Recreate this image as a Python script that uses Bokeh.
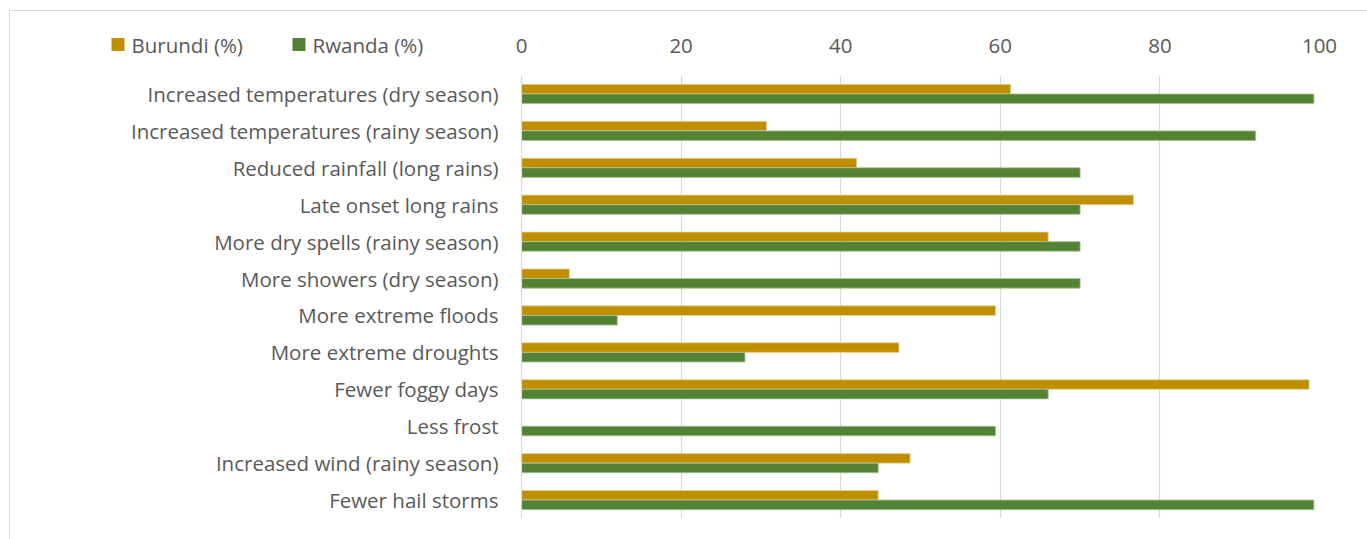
from bokeh.plotting import figure
from bokeh.layouts import column, row
from bokeh.models import ColumnDataSource, FactorRange, Range1d, FixedTicker
from bokeh.core.properties import value
from bokeh.transform import dodge
from bokeh.embed import file_html
from bokeh.resources import INLINE

categories = [
    "Increased temperatures (dry season)",
    "Increased temperatures (rainy season)",
    "Reduced rainfall (long rains)",
    "Late onset long rains",
    "More dry spells (rainy season)",
    "More showers (dry season)",
    "More extreme floods",
    "More extreme droughts",
    "Fewer foggy days",
    "Less frost",
    "Increased wind (rainy season)",
    "Fewer hail storms",
]
burundi = [61.3, 30.7, 42.0, 76.7, 66.0, 6.0, 59.4, 47.3, 98.7, 0.0, 48.7, 44.7]
rwanda = [99.3, 92.0, 70.0, 70.0, 70.0, 70.0, 12.0, 28.0, 66.0, 59.4, 44.7, 99.3]
series_names = ["Burundi (%)", "Rwanda (%)"]
series_colors = ["#BF8F00", "#548235"]
x_ticks = [0, 20, 40, 60, 80, 100]

FONT = "Open Sans"
FS = "20.5px"
TXT = "#595959"
GRID = "#d9d9d9"


def no_frame_align(fig):
    if hasattr(fig, "frame_align"):
        fig.frame_align = False


src = ColumnDataSource(dict(cat=categories, b=burundi, r=rwanda))
xr = Range1d(0, 100)

# ---- main chart ----
p = figure(
    width=1358, height=473,
    y_range=FactorRange(factors=categories[::-1], range_padding=0),
    x_range=xr,
    output_backend="svg", toolbar_location=None,
    x_axis_location=None,
    min_border_left=511, min_border_right=49, min_border_top=8, min_border_bottom=22,
)
no_frame_align(p)
p.outline_line_color = None
p.hbar(y=dodge("cat", 0.13, range=p.y_range), right="b", height=0.26, source=src,
       fill_color=series_colors[0], line_color="#E6D3A0", line_width=0.8)
p.hbar(y=dodge("cat", -0.13, range=p.y_range), right="r", height=0.26, source=src,
       fill_color=series_colors[1], line_color="#A9C19A", line_width=0.8)
p.xgrid.ticker = FixedTicker(ticks=x_ticks)
p.xgrid.grid_line_color = GRID
p.xgrid.grid_line_width = 1.2
p.ygrid.grid_line_color = None
ya = p.yaxis[0]
ya.axis_line_color = GRID
ya.axis_line_width = 1.2
ya.major_tick_line_color = None
ya.minor_tick_line_color = None
ya.major_label_standoff = 17
ya.major_label_text_font = FONT
ya.major_label_text_font_size = FS
ya.major_label_text_color = TXT

# ---- top axis strip (shares the x range) ----
ax = figure(
    width=867, height=56, x_range=xr, y_range=Range1d(0, 1),
    output_backend="svg", toolbar_location=None,
    x_axis_location="above", y_axis_location=None,
    min_border_left=20, min_border_right=49, min_border_top=49, min_border_bottom=0,
)
no_frame_align(ax)
ax.outline_line_color = None
ax.grid.grid_line_color = None
xa = ax.xaxis[0]
xa.ticker = FixedTicker(ticks=x_ticks)
xa.axis_line_color = None
xa.major_tick_line_color = None
xa.minor_tick_line_color = None
xa.major_label_standoff = 2
xa.major_label_text_font = FONT
xa.major_label_text_font_size = FS
xa.major_label_text_color = TXT

# ---- legend strip (screen-pixel ranges, y downwards) ----
LG_W, LG_H = 491, 56
lg = figure(
    width=LG_W, height=LG_H, x_range=Range1d(0, LG_W), y_range=Range1d(LG_H, 0),
    output_backend="svg", toolbar_location=None,
    x_axis_location=None, y_axis_location=None,
    min_border_left=0, min_border_right=0, min_border_top=0, min_border_bottom=0,
)
no_frame_align(lg)
lg.outline_line_color = None
lg.grid.grid_line_color = None
swatch_left = [101, 282]   # layout: left edge of each legend swatch (px)
row_y = 33                 # layout: legend row centre (px from top)
SW = 13
leg_src = ColumnDataSource(dict(
    sx=[x + SW / 2 for x in swatch_left],
    tx=[x + SW + 7 for x in swatch_left],
    y=[row_y] * len(series_names),
    name=series_names,
    color=series_colors,
))
lg.rect(x="sx", y="y", width=SW, height=SW, source=leg_src,
        fill_color="color", line_color=None)
lg.text(x="tx", y="y", text="name", source=leg_src,
        text_font=value(FONT), text_font_size=value(FS), text_color=TXT,
        text_align="left", text_baseline="middle")

layout = column(row(lg, ax), p)
layout.margin = (10, 0, 0, 9)
layout.styles = {"border-top": "1px solid #d9d9d9", "border-left": "1px solid #d9d9d9"}

open("out.html", "w").write(file_html(layout, INLINE))
